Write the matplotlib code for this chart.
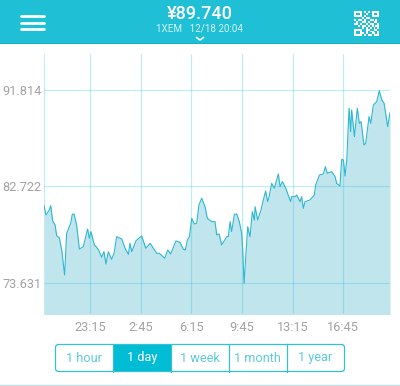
import numpy as np
import matplotlib
matplotlib.use('Agg')
import matplotlib.pyplot as plt
from matplotlib.patches import Rectangle, FancyBboxPatch

# hours since 20:04 the day before
hours = [0.00, 0.17, 0.40, 0.50, 0.63, 0.80, 0.91, 1.09, 1.26, 1.46, 1.60, 1.88, 1.99, 2.11, 2.29, 2.48, 2.75,
         3.05, 3.17, 3.28, 3.52, 3.68, 3.81, 4.02, 4.18, 4.32, 4.48, 4.71, 4.88, 5.06, 5.41, 5.64, 5.87, 5.98,
         6.10, 6.40, 6.79, 7.07, 7.37, 7.83, 8.01, 8.38, 8.59, 8.79, 9.16, 9.44, 9.67, 9.81, 9.95, 10.09, 10.25,
         10.43, 10.59, 10.75, 10.94, 11.17, 11.33, 11.63, 11.86, 11.98, 12.14, 12.32, 12.67, 12.78, 12.90, 13.01,
         13.20, 13.36, 13.54, 13.70, 13.77, 13.87, 14.12, 14.28, 14.44, 14.58, 14.63, 14.81, 15.04, 15.20, 15.36,
         15.50, 15.60, 15.78, 15.96, 16.24, 16.36, 16.52, 16.75, 17.09, 17.16, 17.39, 17.51, 17.74, 17.85, 17.97,
         18.08, 18.43, 18.73, 18.82, 19.08, 19.35, 19.49, 19.63, 19.93, 20.16, 20.27, 20.50, 20.62, 20.74, 20.85,
         20.97, 21.13, 21.24, 21.31, 21.50, 21.70, 21.84, 21.96, 22.16, 22.28, 22.51, 22.63, 22.81, 23.04, 23.22,
         23.39, 23.55, 23.80, 23.96]
price = [81.14, 80.04, 80.51, 80.92, 79.50, 79.09, 78.09, 77.90, 76.74, 74.39, 78.31, 79.25, 80.10, 80.13, 79.09,
         76.83, 77.05, 78.72, 77.84, 78.47, 77.21, 76.99, 76.74, 76.05, 76.58, 75.42, 76.58, 75.86, 76.43, 78.00,
         77.78, 76.90, 76.33, 77.37, 76.58, 77.62, 78.06, 76.90, 77.37, 76.43, 76.43, 75.96, 76.74, 76.36, 77.59,
         77.46, 76.80, 76.74, 77.68, 78.00, 79.72, 79.19, 79.25, 80.98, 81.61, 80.82, 79.72, 79.41, 79.41, 78.15,
         78.26, 77.21, 77.99, 77.99, 79.41, 78.47, 80.10, 80.13, 79.41, 78.31, 76.90, 73.60, 78.94, 77.99, 80.35,
         79.56, 80.82, 79.56, 80.51, 81.45, 82.30, 81.29, 81.76, 83.02, 82.55, 83.90, 82.71, 83.18, 82.55, 81.29,
         81.76, 81.76, 81.92, 81.29, 81.76, 80.66, 81.29, 81.45, 81.92, 82.86, 83.80, 83.90, 84.59, 83.96, 84.12,
         83.65, 83.02, 82.77, 85.28, 85.22, 83.71, 85.22, 90.09, 87.89, 89.93, 87.42, 90.09, 88.67, 88.83, 86.63,
         86.79, 89.30, 88.67, 90.40, 90.71, 91.75, 90.87, 90.56, 88.36, 89.68]

x_ticks = [3.22, 6.72, 10.22, 13.72, 17.22, 20.72]
x_labels = ['23:15', '2:45', '6:15', '9:45', '13:15', '16:45']
y_ticks = [73.631, 82.722, 91.814]
y_labels = ['73.631', '82.722', '91.814']
buttons = ['1 hour', '1 day', '1 week', '1 month', '1 year']

TEAL = '#1fbfd6'
plt.rcParams['font.family'] = ['Roboto', 'DejaVu Sans']

fig = plt.figure(figsize=(4, 3.86), dpi=100)

# main chart, pixel box 43..390 x 54..314
ax = fig.add_axes([43.5/400, 1-314/386, 346.5/400, 260/386])
ax.fill_between(hours, price, 60, color='#c0e5ed', lw=0, zorder=1)
ax.plot(hours, price, color='#2bb8d2', lw=0.8, zorder=3)
ax.set_xlim(0, 23.96)
ax.set_ylim(70.71, 95.2)
ax.set_xticks(x_ticks, x_labels)
ax.set_yticks(y_ticks, y_labels)
ax.grid(True, color='#1fbfd6', lw=0.9, alpha=0.28, zorder=2)
ax.set_axisbelow(False)
for s in ['top', 'right', 'bottom']:
    ax.spines[s].set_visible(False)
ax.spines['left'].set_color('#c5eef3')
ax.tick_params(length=0, labelsize=9.2, labelcolor='#a3a3a3', pad=1.5)
ax.tick_params(axis='x', pad=5)
for line in ax.get_lines():
    line.set_zorder(3)

# app chrome in pixel coordinates
ui = fig.add_axes([0, 0, 1, 1])
ui.set_xlim(0, 400)
ui.set_ylim(386, 0)
ui.axis('off')
ui.patch.set_alpha(0)

ui.add_patch(Rectangle((0, 0), 400, 43, color=TEAL, lw=0))
ui.add_patch(Rectangle((0, 43), 400, 1.2, color='#17aec6', lw=0))
for y in [16, 22.5, 29]:
    ui.plot([21, 44], [y, y], color='white', lw=2.0, solid_capstyle='round')

ui.text(200, 14, '¥89.740', color='white', fontsize=13, fontweight='medium', ha='center', va='center')
ui.text(200, 29, '1XEM   12/18 20:04', color='#d5f3f7', fontsize=7.1, ha='center', va='center')
ui.plot([196.5, 200, 203.5], [37.5, 40, 37.5], color='white', lw=1.1)

# qr code
qr = np.array([[1,1,1,1,0,1,0,1,0,1,1,1,1],
               [1,0,0,1,0,0,1,0,0,1,0,0,1],
               [1,1,1,1,0,1,0,0,0,1,1,1,1],
               [0,0,0,0,1,0,1,1,0,0,0,0,0],
               [1,0,1,1,0,1,0,0,1,1,0,1,0],
               [0,1,0,0,1,1,0,1,0,0,1,1,0],
               [1,1,0,1,0,0,1,0,1,1,0,0,1],
               [0,0,1,0,1,1,0,1,0,1,0,1,1],
               [0,0,0,0,1,0,1,0,1,0,1,0,1],
               [1,1,1,1,0,0,1,1,0,0,1,1,0],
               [1,0,0,1,0,0,1,0,1,1,0,0,1],
               [1,0,0,1,1,0,1,0,0,1,1,0,1],
               [1,1,1,1,0,1,0,1,1,0,1,1,1]])
for r, c in zip(*np.nonzero(qr)):
    ui.add_patch(Rectangle((354+c*1.95, 11+r*1.95), 1.95, 1.95, color='white', lw=0))

# range buttons
edges = [55, 113, 170.5, 228.5, 286.5, 344.5]
ui.add_patch(Rectangle((edges[1], 344), edges[2]-edges[1], 27.5, color='#00bcd4', lw=0))
ui.add_patch(FancyBboxPatch((55.5, 344.5), 289, 27, boxstyle='round,pad=0,rounding_size=3',
                            fc='none', ec='#35c0d4', lw=0.9))
for e in edges[1:-1]:
    ui.plot([e, e], [344, 371.5], color='#35c0d4', lw=0.9)
for i, b in enumerate(buttons):
    ui.text((edges[i]+edges[i+1])/2, 358, b, color='white' if i == 1 else '#5ccbdc',
            fontsize=9.2, ha='center', va='center')
ui.plot([0, 400], [385.3, 385.3], color='#c4dde2', lw=1)

fig.savefig('out.png', dpi=100)
